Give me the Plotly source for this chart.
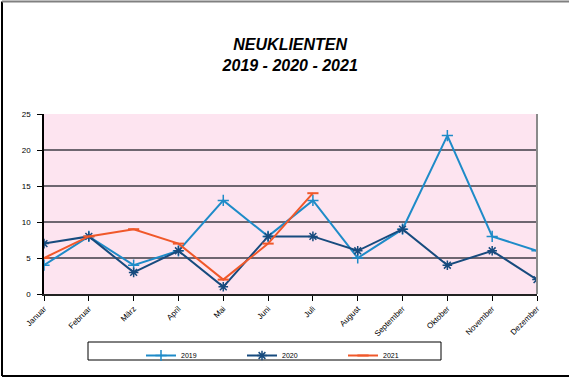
import plotly.graph_objects as go

months = ["Januar", "Februar", "März", "April", "Mai", "Juni", "Juli",
          "August", "September", "Oktober", "November", "Dezember"]
y2019 = [4, 8, 4, 6, 13, 8, 13, 5, 9, 22, 8, 6]
y2020 = [7, 8, 3, 6, 1, 8, 8, 6, 9, 4, 6, 2]
y2021 = [5, 8, 9, 7, 2, 7, 14]
y_ticks = [0, 5, 10, 15, 20, 25]

W, H = 569, 379
L, R, T, B = 44, 537, 114, 294
pw, ph = R - L, B - T

def px(x):
    return (x - L) / pw

def py(y):
    return (B - y) / ph

fig = go.Figure()
fig.add_trace(go.Scatter(x=months, y=y2019, name="2019", mode="lines+markers",
                         line=dict(color="#1e8bc8", width=2),
                         marker=dict(symbol="cross-thin", size=8, color="#1e8bc8",
                                     line=dict(color="#1e8bc8", width=1.5))))
fig.add_trace(go.Scatter(x=months, y=y2020, name="2020", mode="lines+markers",
                         line=dict(color="#174b7e", width=2),
                         marker=dict(symbol="asterisk", size=8, color="#174b7e",
                                     line=dict(color="#174b7e", width=1.5))))
fig.add_trace(go.Scatter(x=months[:len(y2021)], y=y2021, name="2021", mode="lines+markers",
                         line=dict(color="#f0582a", width=2),
                         marker=dict(symbol="line-ew", size=8, color="#f0582a",
                                     line=dict(color="#f0582a", width=2))))

font = "Liberation Sans, Arial, sans-serif"
fig.update_layout(
    width=W, height=H,
    margin=dict(l=L, r=W - R, t=T, b=H - B, autoexpand=False),
    paper_bgcolor="white",
    plot_bgcolor="#fde4f0",
    font=dict(family=font, color="black", size=8),
    title=dict(text="NEUKLIENTEN<br>2019 - 2020 - 2021",
               x=0.51, xanchor="center", xref="container",
               y=1 - 50 / H, yanchor="top", yref="container",
               font=dict(family=font, size=16, weight="bold", style="italic", color="black")),
    showlegend=True,
    legend=dict(orientation="h", x=px(141), y=py(341), xanchor="left", yanchor="top",
                bgcolor="rgba(0,0,0,0)", borderwidth=0,
                entrywidth=56, entrywidthmode="pixels", itemwidth=30,
                font=dict(size=7, family=font), tracegroupgap=0),
)
fig.update_xaxes(range=[0, 11], showgrid=False, tickangle=-45, automargin=False,
                 ticks="outside", ticklen=5, tickcolor="black",
                 showline=True, linecolor="#222222", linewidth=2,
                 tickfont=dict(size=8, family=font))
fig.update_yaxes(range=[0, 25], tickvals=y_ticks, showgrid=True, automargin=False,
                 gridcolor="#6e6670", gridwidth=2,
                 ticks="outside", ticklen=5, tickcolor="black", ticklabelstandoff=5,
                 showline=True, linecolor="black", linewidth=1.5,
                 zeroline=False, tickfont=dict(size=8, family=font))

shapes = [
    dict(type="line", xref="paper", yref="paper", x0=1, x1=1, y0=0, y1=1,
         line=dict(color="#8a8a8a", width=2)),
    dict(type="line", xref="paper", yref="paper", x0=px(2), x1=px(2), y0=py(1.5), y1=py(376),
         line=dict(color="black", width=2)),
    dict(type="line", xref="paper", yref="paper", x0=px(2), x1=px(575), y0=py(376), y1=py(376),
         line=dict(color="black", width=2)),
    dict(type="line", xref="paper", yref="paper", x0=px(2), x1=px(575), y0=py(1.5), y1=py(1.5),
         line=dict(color="#808080", width=2)),
    dict(type="rect", xref="paper", yref="paper", x0=px(88), x1=px(441), y0=py(342), y1=py(360),
         line=dict(color="black", width=1)),
]
fig.update_layout(shapes=shapes)

fig.write_html("out.html", config={"displayModeBar": False},
               post_script="document.body.style.margin='0';document.body.style.overflow='hidden';")
